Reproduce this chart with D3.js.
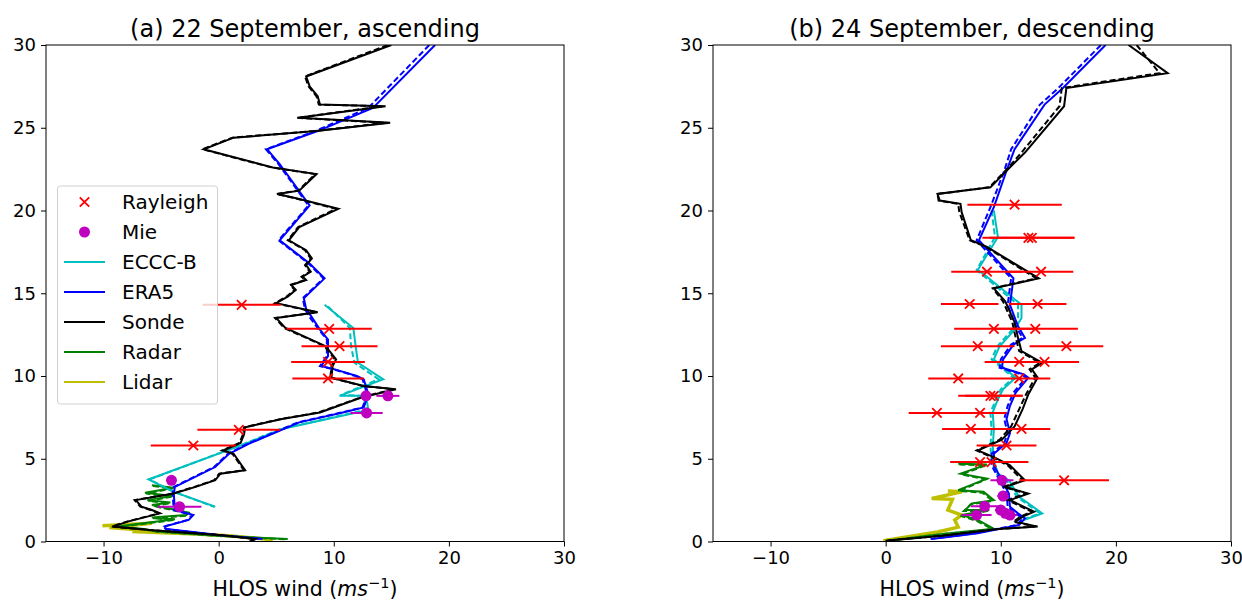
<!DOCTYPE html>
<html><head><meta charset="utf-8">
<script src="https://cdn.jsdelivr.net/npm/d3@7"></script>
<style>body{margin:0;background:#fff;font-family:"DejaVu Sans",sans-serif;}</style>
</head><body><svg id="c" width="1242" height="600"></svg>
<script>
// ---------- DATA: [HLOS wind (m/s), height (km)] ----------
const xTicks = [-10, 0, 10, 20, 30];
const yTicks = [0, 5, 10, 15, 20, 25, 30];
const titles = ["(a) 22 September, ascending", "(b) 24 September, descending"];
const legendLabels = ["Rayleigh", "Mie", "ECCC-B", "ERA5", "Sonde", "Radar", "Lidar"];

// Panel (a)
const sondeA = [[15.0,30],[7.6,28.1],[7.9,27.5],[8.6,26.9],[8.8,26.4],[14.5,26.3],[6.9,25.6],[14.9,25.3],[8.5,24.8],[1.3,24.4],[-1.3,23.7],[4.7,22.6],[8.5,22.2],[7.0,21.2],[5.1,21.0],[7.0,20.7],[10.4,20.1],[7.0,19.0],[6.1,18.2],[7.6,17.6],[8.1,17.1],[7.6,16.7],[8.0,16.3],[7.3,16.0],[7.6,15.8],[6.3,15.5],[6.7,15.2],[6.0,14.8],[5.0,14.4],[8.6,13.85],[5.0,13.5],[5.8,12.9],[9.3,11.8],[10.2,11.0],[9.9,10.6],[9.8,9.9],[12.6,9.4],[15.4,9.2],[12.4,8.7],[8.8,7.8],[5.5,7.4],[2.3,6.9],[2.2,6.45],[1.9,5.95],[0.4,5.5],[1.3,5.3],[2.3,4.3],[0.15,4.1],[-0.3,3.7],[-2.0,3.3],[-3.9,2.9],[-7.2,2.5],[-6.7,2.1],[-5.8,1.9],[-5.1,1.7],[-7.9,1.2],[-9.2,0.9],[-6.0,0.7],[0.0,0.4],[3.2,0.15],[2.8,0.0]];
const sondeDashA = [[14.7,30],[7.5,28.1],[7.8,27.5],[8.5,26.9],[8.7,26.4],[14.2,26.3],[6.8,25.6],[14.6,25.3],[8.3,24.8],[1.2,24.4],[-1.4,23.7],[4.6,22.6],[8.4,22.2],[6.9,21.2],[5.0,21.0],[6.9,20.7],[10.2,20.1],[6.9,19.0],[6.0,18.2],[7.5,17.6],[8.0,17.1],[7.5,16.7],[7.9,16.3],[7.2,16.0],[7.5,15.8],[6.2,15.5],[6.6,15.2],[5.9,14.8],[4.9,14.4],[8.5,13.85],[4.9,13.5],[5.7,12.9],[9.2,11.8],[10.1,11.0],[9.8,10.6],[9.7,9.9],[12.5,9.4],[15.2,9.2],[12.3,8.7],[8.7,7.8],[5.4,7.4],[2.2,6.9],[2.1,6.45],[1.8,5.95],[0.3,5.5],[1.2,5.3],[2.2,4.3],[0.05,4.1],[-0.4,3.7],[-2.1,3.3],[-4.0,2.9],[-7.3,2.5],[-6.8,2.1],[-5.9,1.9],[-5.2,1.7],[-8.0,1.2],[-9.3,0.9],[-6.1,0.7],[-0.1,0.4],[3.1,0.15],[2.7,0.0]];
const era5A = [[18.8,30],[13.4,26.2],[8.6,24.8],[4.2,23.7],[5.3,22.8],[7.9,20.3],[5.3,18.2],[7.9,16.8],[9.2,15.9],[7.4,14.7],[7.6,14.05],[8.0,13.65],[8.8,12.8],[9.5,12.2],[9.5,11.2],[8.9,10.6],[10.1,10.4],[12.0,10.0],[12.6,9.8],[13.0,8.9],[12.6,8.1],[10.8,7.8],[7.0,7.2],[2.6,5.9],[0.9,5.3],[-0.3,4.5],[-3.8,3.3],[-3.9,2.9],[-3.8,1.9],[-2.2,1.6],[-2.6,1.3],[-4.7,0.9],[-4.5,0.75],[0.0,0.4],[3.8,0.15]];
const era5DashA = [[18.3,30],[13.0,26.2],[8.4,24.8],[4.1,23.7],[5.2,22.8],[7.8,20.3],[5.2,18.2],[7.8,16.8],[9.1,15.9],[7.3,14.7],[7.5,14.05],[7.8,13.65],[8.7,12.8],[9.4,12.2],[9.4,11.2],[8.8,10.6],[10.0,10.4],[11.9,10.0],[12.5,9.8],[12.9,8.9],[12.5,8.1],[10.7,7.8],[6.9,7.2],[2.5,5.9],[0.8,5.3],[-0.4,4.5],[-3.9,3.3],[-4.0,2.9],[-3.9,1.9],[-2.3,1.6],[-2.7,1.3],[-4.8,0.9],[-4.6,0.75],[-0.1,0.4],[3.7,0.15]];
const ecccA = [[9.2,14.3],[11.7,12.9],[11.9,11.8],[12.1,10.8],[14.3,9.8],[10.5,8.8],[12.8,8.8],[13.0,7.95],[5.5,6.8],[2.3,5.9],[-6.1,3.75],[-3.9,3.0],[-0.3,2.1]];
const ecccDashA = [[9.5,14.2],[11.4,12.9],[11.5,11.8],[11.8,10.8],[13.9,9.8],[10.6,8.85],[12.6,8.8],[12.8,7.95],[5.4,6.8],[2.2,5.9],[-6.0,3.75],[-3.9,3.0],[-0.4,2.1]];
const radarA = [[-5.8,3.4],[-3.9,3.25],[-6.4,2.95],[-4.0,2.75],[-6.2,2.5],[-4.2,2.35],[-5.8,2.2],[-2.6,1.75],[-2.8,1.6],[-5.8,1.45],[-3.8,1.35],[-8.8,0.9],[-6.5,0.75],[-5.3,0.6],[0.0,0.35],[6.0,0.15]];
const radarDashA = [[-5.7,3.35],[-4.0,3.2],[-6.3,2.9],[-4.1,2.7],[-6.1,2.45],[-4.3,2.3],[-5.7,2.15],[-2.7,1.7],[-2.9,1.55],[-5.7,1.4],[-3.9,1.3],[-8.7,0.88],[-6.4,0.72],[-5.2,0.58],[0.1,0.33],[5.8,0.13]];
const lidarA = [[-10.1,0.95],[-5.8,1.1],[-9.5,0.85],[-6.7,0.7],[-7.5,0.6],[-2.0,0.45],[0.9,0.35],[4.7,0.1]];
// Rayleigh / Mie: [wind, height, x-error]
const rayleighA = [[2.0,14.3,3.4],[9.6,12.85,3.7],[10.5,11.8,3.3],[9.5,10.85,3.2],[9.5,9.85,3.1],[1.75,6.75,3.6],[-2.2,5.8,3.7]];
const mieA = [[12.8,8.8,0.3],[14.7,8.8,1.0],[12.85,7.77,1.4],[-4.1,3.7,0.0],[-3.4,2.1,1.9]];

// Panel (b)
const sondeB = [[21.1,30],[24.5,28.3],[15.7,27.4],[15.5,26.3],[12.1,23.5],[10.5,22.4],[9.1,21.4],[4.5,21.0],[4.7,20.6],[6.5,20.4],[6.6,19.9],[7.4,18.2],[8.8,17.8],[13.3,15.9],[9.4,15.3],[10.4,14.5],[11.2,13.25],[11.5,12.3],[11.8,11.5],[13.6,10.8],[12.7,10.4],[13.2,9.9],[12.4,8.9],[11.9,8.0],[11.2,6.95],[10.1,6.15],[8.0,5.5],[9.4,5.1],[10.8,4.6],[12.1,3.7],[10.4,3.3],[12.4,2.9],[10.8,2.5],[12.9,1.8],[11.9,1.5],[11.3,1.2],[13.2,0.9],[9.8,0.75],[5.0,0.35],[0.0,0.05]];
const sondeDashB = [[21.8,30],[23.8,28.3],[15.3,27.4],[15.1,26.3],[11.8,23.5],[10.4,22.4],[9.0,21.4],[4.5,21.0],[4.6,20.6],[6.3,20.4],[6.4,19.9],[7.3,18.2],[8.7,17.8],[13.1,15.9],[9.3,15.3],[10.2,14.5],[11.0,13.25],[11.3,12.3],[11.6,11.5],[13.4,10.8],[12.5,10.4],[13.0,9.9],[12.2,8.9],[11.6,8.0],[10.9,6.95],[9.9,6.15],[7.9,5.5],[9.2,5.1],[10.6,4.6],[11.9,3.7],[10.2,3.3],[12.2,2.9],[10.6,2.5],[12.7,1.8],[11.7,1.5],[11.1,1.2],[13.0,0.9],[9.6,0.75],[4.8,0.35],[0.0,0.05]];
const era5B = [[19.1,30],[15.4,27.4],[13.8,26.4],[11.2,23.7],[10.5,22.4],[9.4,20.2],[8.1,18.2],[11.1,15.9],[10.8,14.3],[11.5,13.0],[12.1,12.3],[11.1,11.9],[10.2,11.0],[10.1,10.5],[12.0,10.1],[12.4,9.9],[11.3,9.0],[10.8,8.2],[10.5,7.4],[10.8,6.55],[10.5,5.95],[9.4,5.3],[9.4,4.6],[10.1,3.7],[10.7,2.9],[10.8,2.1],[11.5,1.7],[12.1,1.4],[11.6,1.0],[8.0,0.5],[4.0,0.15]];
const era5DashB = [[18.7,30],[15.0,27.4],[13.4,26.4],[10.9,23.7],[10.3,22.4],[9.1,20.2],[7.9,18.2],[10.9,15.9],[10.6,14.3],[11.3,13.0],[11.9,12.3],[10.9,11.9],[10.0,11.0],[9.9,10.5],[11.8,10.1],[12.2,9.9],[11.1,9.0],[10.6,8.2],[10.3,7.4],[10.6,6.55],[10.3,5.95],[9.2,5.3],[9.2,4.6],[9.9,3.7],[10.5,2.9],[10.6,2.1],[11.3,1.7],[11.9,1.4],[11.4,1.0],[7.8,0.5],[3.9,0.15]];
const ecccB = [[9.4,20.0],[9.75,18.4],[8.0,16.4],[8.8,16.0],[11.8,14.3],[11.8,13.5],[11.2,12.8],[9.9,11.8],[9.4,11.0],[11.3,9.9],[10.2,9.2],[9.75,8.6],[9.3,7.8],[9.4,6.75],[9.3,5.75],[9.4,4.9],[9.75,4.1],[10.7,3.7],[11.6,2.7],[13.6,1.7],[12.0,1.3]];
const ecccDashB = [[9.2,20.0],[9.5,18.4],[7.9,16.4],[8.6,16.0],[11.5,14.3],[11.5,13.5],[11.0,12.8],[9.7,11.8],[9.2,11.0],[11.1,9.9],[10.0,9.2],[9.6,8.6],[9.1,7.8],[9.2,6.75],[9.1,5.75],[9.2,4.9],[9.6,4.1],[10.5,3.7],[11.4,2.7],[13.4,1.7],[11.8,1.3]];
const radarB = [[6.3,4.7],[8.8,4.65],[6.5,4.1],[8.8,3.8],[6.3,3.1],[8.5,3.0],[9.4,2.5],[7.5,2.3],[6.9,1.9],[9.0,1.9],[6.6,1.6],[8.0,1.3],[9.4,0.77],[5.1,0.47],[0.1,0.05]];
const radarDashB = [[6.4,4.65],[8.7,4.6],[6.6,4.05],[8.7,3.75],[6.4,3.05],[8.4,2.95],[9.3,2.45],[7.4,2.25],[6.8,1.85],[8.9,1.85],[6.5,1.55],[7.9,1.25],[9.3,0.74],[5.0,0.45],[0.0,0.04]];
const lidarB = [[5.4,3.05],[6.6,3.0],[4.0,2.6],[5.8,2.55],[5.4,1.9],[6.6,1.6],[6.0,1.3],[6.3,0.87],[4.5,0.57],[-0.2,0.05]];
const rayleighB = [[11.2,20.35,4.1],[12.4,18.35,4.0],[12.7,18.35,3.7],[8.8,16.3,3.1],[13.5,16.3,2.8],[7.3,14.35,2.5],[13.2,14.35,2.5],[9.4,12.85,3.45],[13.0,12.85,3.7],[8.0,11.8,3.2],[15.7,11.8,3.2],[11.6,10.85,3.0],[13.8,10.85,3.0],[6.3,9.85,2.6],[11.6,9.85,2.7],[9.1,8.8,2.8],[9.4,8.8,2.5],[4.45,7.77,2.45],[8.2,7.77,2.3],[7.4,6.8,2.5],[11.8,6.8,2.5],[10.5,5.8,2.6],[8.2,4.8,2.6],[9.2,4.8,3.2],[15.5,3.7,3.9]];
const mieB = [[10.1,3.7,1.0],[10.2,2.75,0.5],[8.6,2.13,1.2],[10.0,1.9,0.5],[7.9,1.6,1.3],[10.4,1.7,0.5],[10.8,1.6,0.6]];

// ---------- DRAWING ----------
const C = {r:"#ff0000", m:"#bf00bf", c:"#00bfbf", b:"#0000ff", k:"#000000", g:"#008000", y:"#bfbf00"};
const svg = d3.select("#c");
const plotTop = 45, plotBottom = 541.5;
const panels = [
  {x0:46, x1:564, title:titles[0], sonde:sondeA, sondeD:sondeDashA, era5:era5A, era5D:era5DashA, eccc:ecccA, ecccD:ecccDashA, radar:radarA, radarD:radarDashA, lidar:lidarA, ray:rayleighA, mie:mieA, legend:true},
  {x0:713, x1:1231, title:titles[1], sonde:sondeB, sondeD:sondeDashB, era5:era5B, era5D:era5DashB, eccc:ecccB, ecccD:ecccDashB, radar:radarB, radarD:radarDashB, lidar:lidarB, ray:rayleighB, mie:mieB, legend:false}
];

panels.forEach((p, i) => {
  const x = d3.scaleLinear().domain([-15, 30]).range([p.x0, p.x1]);
  const y = d3.scaleLinear().domain([0, 30]).range([plotBottom, plotTop]);
  const clipId = "clip" + i;
  svg.append("clipPath").attr("id", clipId).append("rect")
    .attr("x", p.x0).attr("y", plotTop).attr("width", p.x1 - p.x0).attr("height", plotBottom - plotTop);
  const g = svg.append("g").attr("clip-path", `url(#${clipId})`);
  const line = d3.line().x(d => x(d[0])).y(d => y(d[1]));
  const draw = (data, color, w, dash) => {
    const path = g.append("path").datum(data).attr("d", line).attr("fill", "none")
      .attr("stroke", color).attr("stroke-width", w).attr("stroke-linejoin", "miter");
    if (dash) path.attr("stroke-dasharray", dash);
  };
  draw(p.lidar, C.y, 3.5);
  draw(p.radar, C.g, 2);
  draw(p.radarD, C.g, 2, "6,3");
  draw(p.eccc, C.c, 2);
  draw(p.ecccD, C.c, 2, "6,3");
  draw(p.era5, C.b, 2);
  draw(p.era5D, C.b, 2, "6,3");
  draw(p.sonde, C.k, 2);
  draw(p.sondeD, C.k, 2, "6,3");

  // Rayleigh error bars + crosses
  g.selectAll(null).data(p.ray).enter().append("line")
    .attr("x1", d => x(d[0] - d[2])).attr("x2", d => x(d[0] + d[2]))
    .attr("y1", d => y(d[1])).attr("y2", d => y(d[1]))
    .attr("stroke", C.r).attr("stroke-width", 2);
  const cross = d3.symbol().type(d3.symbolX).size(60);
  g.selectAll(null).data(p.ray).enter().append("path")
    .attr("d", cross).attr("transform", d => `translate(${x(d[0])},${y(d[1])})`)
    .attr("fill", "none").attr("stroke", C.r).attr("stroke-width", 1.8);
  // Mie
  g.selectAll(null).data(p.mie.filter(d => d[2] > 0)).enter().append("line")
    .attr("x1", d => x(d[0] - d[2])).attr("x2", d => x(d[0] + d[2]))
    .attr("y1", d => y(d[1])).attr("y2", d => y(d[1]))
    .attr("stroke", C.m).attr("stroke-width", 2);
  g.selectAll(null).data(p.mie).enter().append("circle")
    .attr("cx", d => x(d[0])).attr("cy", d => y(d[1])).attr("r", 5.5).attr("fill", C.m);

  // frame
  svg.append("rect").attr("x", p.x0).attr("y", plotTop).attr("width", p.x1 - p.x0).attr("height", plotBottom - plotTop)
    .attr("fill", "none").attr("stroke", "#000").attr("stroke-width", 1);

  // axes
  const xa = svg.append("g").attr("transform", `translate(0,${plotBottom})`)
    .call(d3.axisBottom(x).tickValues(xTicks).tickSize(5).tickPadding(5).tickFormat(d => d < 0 ? "\u2212" + Math.abs(d) : d));
  const ya = svg.append("g").attr("transform", `translate(${p.x0},0)`)
    .call(d3.axisLeft(y).tickValues(yTicks).tickSize(5).tickPadding(5));
  [xa, ya].forEach(a => {
    a.select(".domain").remove();
    a.selectAll("text").attr("font-size", 18).attr("font-family", "DejaVu Sans").attr("fill", "#000");
    a.selectAll("line").attr("stroke", "#000");
  });

  // title
  svg.append("text").attr("x", (p.x0 + p.x1) / 2).attr("y", 37).attr("text-anchor", "middle")
    .attr("font-size", 24).attr("font-family", "DejaVu Sans").text(p.title);
  // x label
  const xl = svg.append("text").attr("x", (p.x0 + p.x1) / 2).attr("y", 596).attr("text-anchor", "middle")
    .attr("font-size", 20.5).attr("font-family", "DejaVu Sans");
  xl.append("tspan").text("HLOS wind (");
  xl.append("tspan").attr("font-style", "italic").text("ms");
  xl.append("tspan").attr("font-size", 14.5).attr("dy", -8).text("\u22121");
  xl.append("tspan").attr("dy", 8).text(")");

  if (p.legend) {
    const lg = svg.append("g");
    lg.append("rect").attr("x", 57.5).attr("y", 186).attr("width", 160).attr("height", 218).attr("rx", 3)
      .attr("fill", "#fff").attr("fill-opacity", 0.8).attr("stroke", "#d0d0d0").attr("stroke-width", 1);
    const colors = [C.r, C.m, C.c, C.b, C.k, C.g, C.y];
    legendLabels.forEach((lab, k) => {
      const yy = 202 + k * 30;
      if (k === 0) {
        lg.append("path").attr("d", cross).attr("transform", `translate(84.5,${yy})`)
          .attr("fill", "none").attr("stroke", C.r).attr("stroke-width", 1.8);
      } else if (k === 1) {
        lg.append("circle").attr("cx", 84.5).attr("cy", yy).attr("r", 5.5).attr("fill", C.m);
      } else {
        lg.append("line").attr("x1", 64).attr("x2", 105).attr("y1", yy).attr("y2", yy)
          .attr("stroke", colors[k]).attr("stroke-width", 2);
      }
      lg.append("text").attr("x", 122).attr("y", yy + 7).attr("font-size", 20)
        .attr("font-family", "DejaVu Sans").text(lab);
    });
  }
});
</script></body></html>
